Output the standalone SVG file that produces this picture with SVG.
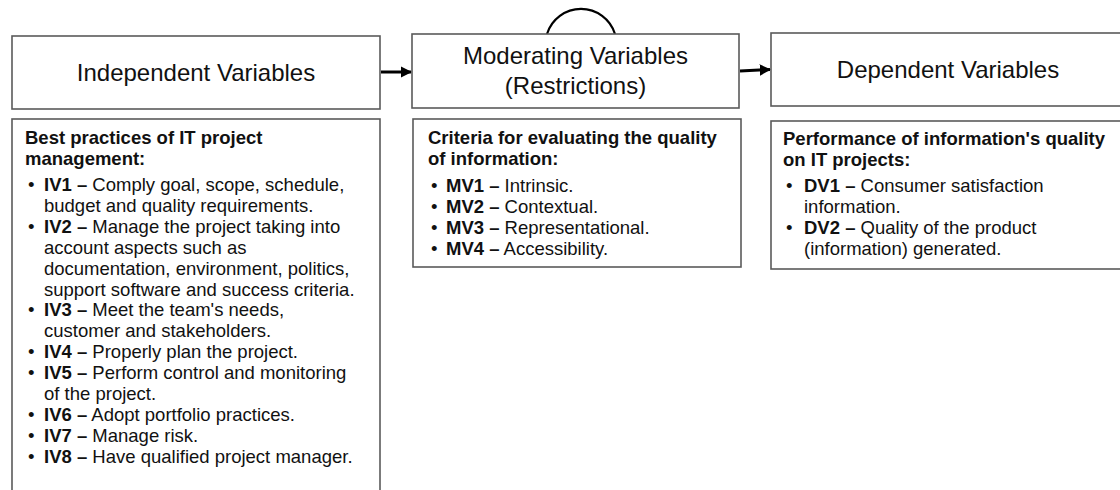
<svg xmlns="http://www.w3.org/2000/svg" width="1120" height="490" viewBox="0 0 1120 490">
<style>
.box{fill:#fff;stroke:#5a5a5a;stroke-width:1.6}
.hd{font-family:"Liberation Sans",Arial,sans-serif;font-size:24px;fill:#111;text-anchor:middle}
.tx{font-family:"Liberation Sans",Arial,sans-serif;font-size:18.5px;fill:#111}
.b{font-weight:bold}
.con{stroke:#000;stroke-width:3;fill:none}
</style>
<defs>
<marker id="ah" viewBox="0 0 10 10" refX="9" refY="5" markerWidth="3.8" markerHeight="3.8" orient="auto" markerUnits="strokeWidth">
<path d="M0,0 L10,5 L0,10 z" fill="#000"/>
</marker>
</defs>
<rect width="1120" height="490" fill="#fff"/>
<g id="connectors">
<line class="con" x1="381" y1="72" x2="411" y2="72" marker-end="url(#ah)"/>
<line class="con" x1="740" y1="71" x2="770" y2="69.5" marker-end="url(#ah)"/>
<path d="M547,34 A35.6,35.6 0 0 1 615,34" stroke="#000" stroke-width="2.2" fill="none"/>
</g>
<g id="iv-head">
<rect class="box" x="12" y="36" width="368" height="73"/>
<text class="hd" x="196" y="81">Independent Variables</text>
</g>
<g id="mv-head">
<rect class="box" x="412" y="34" width="327" height="74"/>
<text class="hd" x="575.5" y="64">Moderating Variables</text>
<text class="hd" x="575.5" y="94">(Restrictions)</text>
</g>
<g id="dv-head">
<rect class="box" x="771" y="33" width="360" height="73"/>
<text class="hd" x="948" y="78">Dependent Variables</text>
</g>
<g id="iv-list">
<rect class="box" x="12" y="119" width="368" height="380"/>
<text class="tx b" x="25" y="144">Best practices of IT project</text>
<text class="tx b" x="25" y="165">management:</text>
<text class="tx" x="28" y="191">•</text>
<text class="tx" x="44" y="191"><tspan class="b">IV1 –</tspan> Comply goal, scope, schedule,</text>
<text class="tx" x="44" y="211.9">budget and quality requirements.</text>
<text class="tx" x="28" y="232.8">•</text>
<text class="tx" x="44" y="232.8"><tspan class="b">IV2 –</tspan> Manage the project taking into</text>
<text class="tx" x="44" y="253.7">account aspects such as</text>
<text class="tx" x="44" y="274.6">documentation, environment, politics,</text>
<text class="tx" x="44" y="295.5">support software and success criteria.</text>
<text class="tx" x="28" y="316.4">•</text>
<text class="tx" x="44" y="316.4"><tspan class="b">IV3 –</tspan> Meet the team's needs,</text>
<text class="tx" x="44" y="337.3">customer and stakeholders.</text>
<text class="tx" x="28" y="358.2">•</text>
<text class="tx" x="44" y="358.2"><tspan class="b">IV4 –</tspan> Properly plan the project.</text>
<text class="tx" x="28" y="379.1">•</text>
<text class="tx" x="44" y="379.1"><tspan class="b">IV5 –</tspan> Perform control and monitoring</text>
<text class="tx" x="44" y="400">of the project.</text>
<text class="tx" x="28" y="420.9">•</text>
<text class="tx" x="44" y="420.9"><tspan class="b">IV6 –</tspan> Adopt portfolio practices.</text>
<text class="tx" x="28" y="441.8">•</text>
<text class="tx" x="44" y="441.8"><tspan class="b">IV7 –</tspan> Manage risk.</text>
<text class="tx" x="28" y="462.7">•</text>
<text class="tx" x="44" y="462.7"><tspan class="b">IV8 –</tspan> Have qualified project manager.</text>
</g>
<g id="mv-list">
<rect class="box" x="413" y="119" width="328" height="148"/>
<text class="tx b" x="428" y="144">Criteria for evaluating the quality</text>
<text class="tx b" x="428" y="165">of information:</text>
<text class="tx" x="431" y="191.5">•</text>
<text class="tx" x="446" y="191.5"><tspan class="b">MV1 –</tspan> Intrinsic.</text>
<text class="tx" x="431" y="212.5">•</text>
<text class="tx" x="446" y="212.5"><tspan class="b">MV2 –</tspan> Contextual.</text>
<text class="tx" x="431" y="233.5">•</text>
<text class="tx" x="446" y="233.5"><tspan class="b">MV3 –</tspan> Representational.</text>
<text class="tx" x="431" y="254.5">•</text>
<text class="tx" x="446" y="254.5"><tspan class="b">MV4 –</tspan> Accessibility.</text>
</g>
<g id="dv-list">
<rect class="box" x="771" y="121" width="360" height="148"/>
<text class="tx b" x="783" y="145">Performance of information's quality</text>
<text class="tx b" x="783" y="166">on IT projects:</text>
<text class="tx" x="786" y="192">•</text>
<text class="tx" x="804" y="192"><tspan class="b">DV1 –</tspan> Consumer satisfaction</text>
<text class="tx" x="804" y="213">information.</text>
<text class="tx" x="786" y="234">•</text>
<text class="tx" x="804" y="234"><tspan class="b">DV2 –</tspan> Quality of the product</text>
<text class="tx" x="804" y="255">(information) generated.</text>
</g>
</svg>
